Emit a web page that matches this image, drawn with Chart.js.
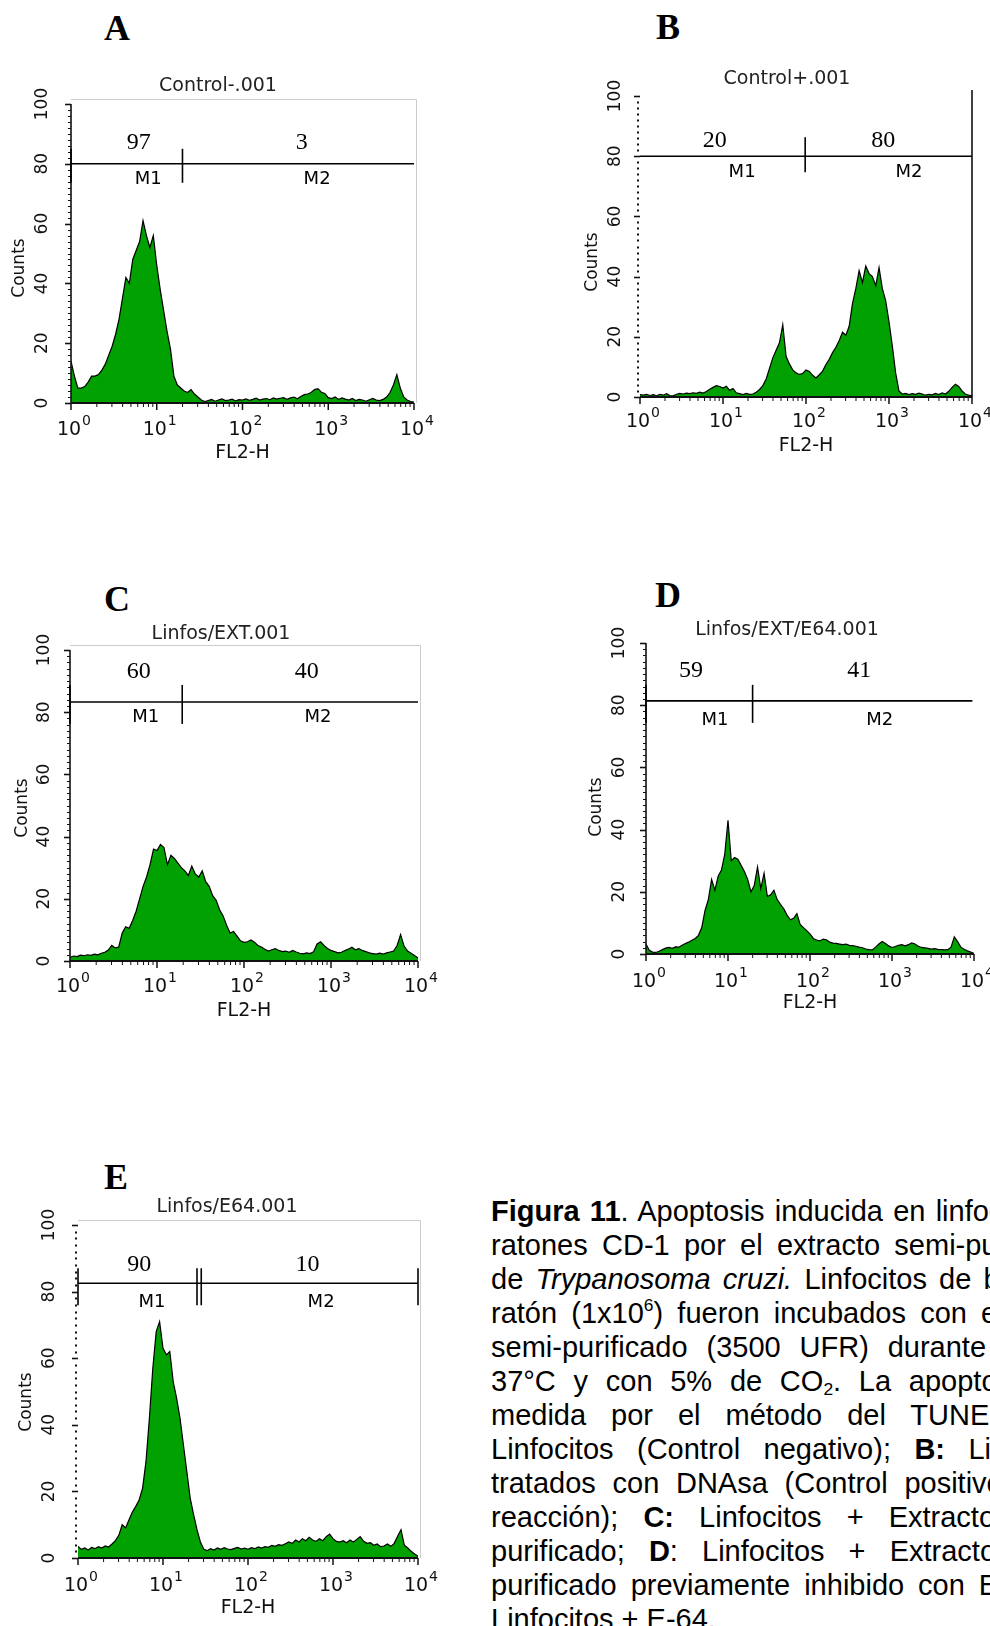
<!DOCTYPE html>
<html>
<head>
<meta charset="utf-8">
<script src="https://cdn.jsdelivr.net/npm/chart.js@4.4.0/dist/chart.umd.min.js"></script>
<style>
  html, body { margin: 0; padding: 0; background: #fff; }
  #page { position: relative; width: 990px; height: 1626px; overflow: hidden; }
  #page canvas { position: absolute; }
  .letter { position: absolute; font-family: "Liberation Serif", serif; font-weight: bold; font-size: 36px; transform: translate(-50%, -50%); }
  #caption { position: absolute; left: 491px; top: 1194px; font-family: "Liberation Sans", Arial, sans-serif; font-size: 29px; line-height: 34px; color: #000; }
  #caption div { width: 600px; text-align: justify; text-align-last: justify; }
  #caption div.last { text-align-last: left; }
  #caption sup { font-size: 0.6em; vertical-align: 0.7em; line-height: 0; }
  #caption sub { font-size: 0.6em; vertical-align: -0.25em; line-height: 0; }
</style>
</head>
<body>
<div id="page">
  <div class="letter" style="left:117px;top:28px">A</div>
  <div class="letter" style="left:668px;top:27px">B</div>
  <div class="letter" style="left:117px;top:599px">C</div>
  <div class="letter" style="left:668px;top:595px">D</div>
  <div class="letter" style="left:116px;top:1177px">E</div>

  <div id="caption">
    <div><b>Figura 11</b>. Apoptosis inducida en linfocitos de</div>
    <div>ratones CD-1 por el extracto semi-purificado</div>
    <div>de <i>Trypanosoma cruzi.</i> Linfocitos de bazo de</div>
    <div style="width:630px">ratón (1x10<sup>6</sup>) fueron incubados con el extracto</div>
    <div>semi-purificado (3500 UFR) durante 4 h a</div>
    <div>37°C y con 5% de CO<sub>2</sub>. La apoptosis fue</div>
    <div style="width:578px">medida por el método del TUNEL. <b>A:</b></div>
    <div>Linfocitos (Control negativo); <b>B:</b> Linfocitos</div>
    <div>tratados con DNAsa (Control positivo de la</div>
    <div>reacción); <b>C:</b> Linfocitos + Extracto semi-</div>
    <div>purificado; <b>D</b>: Linfocitos + Extracto semi-</div>
    <div>purificado previamente inhibido con E-64; <b>E:</b></div>
    <div class="last">Linfocitos + E-64.</div>
  </div>
</div>

<script>
// FL2-H channel positions, in decades (0 = 10^0 ... 4 = 10^4)
const channels = Array.from({ length: 101 }, (_, i) => +(i * 0.04).toFixed(2));

// Counts per channel
const countsA = [14, 9, 5, 5, 5.5, 7, 9, 9, 9.5, 11,
  13, 16, 19, 23, 28, 35, 42, 40, 48, 51,
  54, 61, 56, 52, 56, 46, 38, 31, 24, 18,
  9, 6, 5, 4, 3.5, 4.5, 3, 2, 1, 0.5,
  0.8, 1.2, 0.6, 1, 1.4, 0.8, 1, 1.3, 0.7, 1.1,
  1, 1.4, 0.9, 1.2, 1.6, 1, 1.3, 1.5, 1.1, 1.7,
  1.3, 1.6, 1.8, 1.2, 1.7, 2, 1.4, 2.2, 2.8, 3,
  3.5, 4.5, 4.8, 3.6, 3.2, 1.8, 1.5, 2, 1.2, 1.7,
  1.3, 1, 1.5, 0.8, 1.2, 1, 0.6, 1.1, 1.5, 1,
  0.8, 1.2, 2, 3.5, 6, 9.5, 5, 2, 1, 0.5,
  0.3];

const countsB = [0.8, 0.6, 0.9, 0.5, 0.8, 0.4, 0.9, 0.6, 1.1, 0.5,
  0.4, 0.9, 1.2, 1, 1.3, 1.1, 1.4, 1.2, 1.6, 1.3,
  1.8, 2.6, 3.2, 3.8, 3.5, 3, 3.6, 2.2, 2.8, 1.4,
  1.1, 0.8, 1.2, 0.9, 1, 1.6, 2.5, 3.8, 6, 9.5,
  13, 15.5, 18, 24, 13.5, 11, 9, 8, 7.5, 7.8,
  9, 8.5, 7.2, 6.3, 7.4, 8.6, 10.8, 12.5, 14.8, 16.5,
  18.8, 21.5, 20.5, 23.5, 31, 36, 42, 38, 43.5, 41,
  40, 37, 43, 36, 32, 25, 17, 8, 2, 1,
  1.2, 0.8, 1.1, 0.9, 1.3, 1, 0.6, 0.9, 0.7, 1.2,
  0.8, 1.4, 1, 1.9, 3.2, 4.2, 3.5, 2, 1, 0.6,
  0.4];

const countsC = [1.2, 1.6, 1.4, 1.9, 1.7, 2.0, 1.8, 2.2, 2.0, 2.5,
  2.8, 3.5, 5.0, 4.2, 4.5, 9, 11, 10.5, 13, 16,
  20, 24, 27, 31, 36, 35.5, 37.5, 36.5, 31, 34,
  33, 31.5, 30, 29, 27.5, 30.5, 28, 27, 29, 25.5,
  24, 21, 19.5, 16.5, 14.5, 11.5, 9, 9.5, 8, 6.5,
  6, 6.2, 6.8, 6, 5, 4.5, 3.8, 3.2, 3.6, 4,
  3.4, 3, 3.2, 2.8, 3.4, 2.9, 2.5, 2.3, 2.6, 2.4,
  3, 5.5, 6.2, 5, 4, 3.4, 3, 2.6, 2.8, 3.4,
  3.8, 4.4, 3.6, 4, 3.4, 3, 2.6, 2.4, 2.2, 2.5,
  2.2, 2.6, 2.9, 3.2, 5, 8.5, 4.8, 3.2, 2.5, 1.8,
  1];

const countsD = [3.2, 1.2, 0.6, 0.5, 0.9, 1.4, 1.9, 2.1, 1.8, 2.3,
  2.2, 2.8, 3.4, 3.8, 4.4, 5, 6, 8.5, 14, 17.5,
  24, 20.5, 25, 27, 32, 43, 30, 31, 30.5, 28.5,
  26.5, 24, 20, 22, 28, 21, 26, 18.5, 19, 20.5,
  17.5, 16, 14.5, 12.5, 11, 11.5, 13, 9.5, 8.5, 7.5,
  6.5, 5, 4.5, 4.2, 4.8, 4.6, 3.8, 3.5, 3.4, 3.2,
  3, 3.2, 2.8, 2.7, 2.5, 2.2, 2.0, 1.6, 1.4, 1.3,
  2.2, 3.2, 4, 3.4, 2.6, 2.1, 2.4, 2.8, 3, 2.6,
  3, 3.6, 3.2, 2.5, 2.1, 2, 1.8, 1.6, 1.7, 1.5,
  1.4, 1.3, 1.4, 2.2, 5.5, 4, 2.2, 1.5, 1, 0.6,
  0.2];

const countsE = [3.5, 2.6, 3.0, 2.4, 3.2, 2.8, 3.4, 3.0, 3.6, 3.3,
  4.2, 5.2, 6.8, 10, 9, 11.5, 13.8, 15.5, 17.5, 21,
  29, 42, 57, 68, 71, 63, 61, 62, 53, 48,
  42, 34, 26, 18, 13, 8.5, 4.8, 2.6, 2.2, 2.8,
  2.4, 3, 2.6, 3.1, 2.7, 2.5, 2.9, 3.2, 2.7, 3,
  2.6, 3.1, 2.8, 3.3, 3.0, 3.4, 3.2, 3.8, 3.5, 4,
  3.8, 4.3, 4.8, 4.4, 5.4, 4.8, 5.8, 5.2, 6.2, 5.4,
  5, 5.8, 5.2, 6.4, 7.2, 5.8, 5, 4.8, 5.2, 4.6,
  5.4, 4.8, 5.6, 6.4, 5, 4.4, 4.6, 3.8, 4.2, 3.4,
  3.6, 4.2, 3.5, 4.4, 6.5, 8.5, 3.8, 3, 2, 1.2,
  0.5];

const panelTitles = ['Control-.001', 'Control+.001', 'Linfos/EXT.001', 'Linfos/EXT/E64.001', 'Linfos/E64.001'];
const gatePercents = [['97', '3'], ['20', '80'], ['60', '40'], ['59', '41'], ['90', '10']];
const gateNames = ['M1', 'M2'];
// gate boundaries in decades, and the counts level the marker bar sits at
const gateEdges = [[0, 1.3, 4], [0, 1.99, 4], [0, 1.29, 4], [0, 1.3, 3.98], [0, 1.4, 1.45, 4]];
const gateLevels = [80, 80, 83.3, 81.4, 82.5];
const yTicks = [0, 20, 40, 60, 80, 100];
const xDecades = [0, 1, 2, 3, 4];

const GREEN = '#00a100';
const INK = '#111';

// layout of each panel on the page (page pixels)
const panels = [
  { counts: countsA, canvas: { x: 0, y: 60, w: 450, h: 420 }, plot: { l: 71, t: 104, r: 414, b: 403 },
    frame: true, solidAxis: true, title: [218, 86], yLabX: 43, countsXY: [20, 268], xLabY: 428, flY: 453,
    ticks: [0, 1.3], div: [-15, 19], pctX: [0.79, 2.69], pctDy: -21, mX: [0.9, 2.87], mDy: 16 },
  { counts: countsB, canvas: { x: 560, y: 60, w: 430, h: 420 }, plot: { l: 640, t: 96, r: 972, b: 397 },
    frame: false, solidAxis: false, title: [787, 79], yLabX: 616, countsXY: [593, 262], xLabY: 420, flY: 446,
    ticks: [1.99], div: [-19, 16], tallRight: true, pctX: [0.9, 2.93], pctDy: -15, mX: [1.23, 3.24], mDy: 16 },
  { counts: countsC, canvas: { x: 0, y: 610, w: 450, h: 420 }, plot: { l: 70, t: 650, r: 418, b: 961 },
    frame: true, solidAxis: true, title: [221, 634], yLabX: 45, countsXY: [23, 808], xLabY: 985, flY: 1011,
    ticks: [0, 1.29], div: [-17, 22], pctX: [0.79, 2.72], pctDy: -30, mX: [0.87, 2.85], mDy: 15 },
  { counts: countsD, canvas: { x: 560, y: 605, w: 430, h: 420 }, plot: { l: 646, t: 643, r: 974, b: 954 },
    frame: false, solidAxis: true, title: [787, 630], yLabX: 620, countsXY: [597, 807], xLabY: 980, flY: 1003,
    ticks: [0, 1.3], div: [-16, 22], pctX: [0.55, 2.6], pctDy: -30, mX: [0.84, 2.85], mDy: 19 },
  { counts: countsE, canvas: { x: 0, y: 1190, w: 450, h: 436 }, plot: { l: 78, t: 1225, r: 418, b: 1558 },
    frame: true, solidAxis: false, title: [227, 1207], yLabX: 50, countsXY: [27, 1402], xLabY: 1584, flY: 1608,
    ticks: [0, 1.4, 1.45, 4], div: [-15, 22], pctX: [0.72, 2.7], pctDy: -19, mX: [0.87, 2.86], mDy: 19 }
];

const seg = (ctx, x1, y1, x2, y2, w) => {
  ctx.lineWidth = w;
  ctx.beginPath();
  ctx.moveTo(x1, y1);
  ctx.lineTo(x2, y2);
  ctx.stroke();
};

const panelPlugin = (p, idx) => ({
  id: 'flowPanel' + idx,
  beforeDatasetsDraw(chart) {
    if (!p.frame) return;
    const { ctx, chartArea: a } = chart;
    ctx.save();
    ctx.strokeStyle = '#cccccc';
    ctx.lineWidth = 1;
    ctx.beginPath();
    ctx.moveTo(a.left, a.top - 4.5);
    ctx.lineTo(a.right + 2.5, a.top - 4.5);
    ctx.lineTo(a.right + 2.5, a.bottom);
    ctx.stroke();
    ctx.restore();
  },
  afterDatasetsDraw(chart) {
    const { ctx, scales: { x, y } } = chart;
    const ox = p.canvas.x, oy = p.canvas.y;
    ctx.save();
    ctx.strokeStyle = INK;
    ctx.fillStyle = INK;

    // y axis
    const ax = x.getPixelForValue(0);
    if (p.solidAxis) seg(ctx, ax, y.getPixelForValue(100), ax, y.getPixelForValue(0), 1.6);
    for (let v = 0; v <= 100; v += 2) {
      const py = Math.round(y.getPixelForValue(v)) + 0.5;
      if (v % 20 === 0) seg(ctx, ax - 6, py, ax, py, 1.6);
      else if (p.solidAxis) seg(ctx, ax - 3, py, ax, py, 1);
      else ctx.fillRect(ax - 3, py - 1, 2, 2);
    }

    // x axis (log decades)
    const by = y.getPixelForValue(0);
    seg(ctx, x.getPixelForValue(0), by, x.getPixelForValue(4), by, 2);
    xDecades.forEach(d => {
      const px = x.getPixelForValue(d);
      seg(ctx, px, by, px, by + 7, 1.5);
      if (d < 4) {
        for (let k = 2; k <= 9; k++) {
          const mx = x.getPixelForValue(d + Math.log10(k));
          seg(ctx, mx, by, mx, by + 4, 1);
        }
      }
    });

    // y tick labels, rotated
    ctx.font = '17px "DejaVu Sans"';
    ctx.textAlign = 'center';
    ctx.textBaseline = 'middle';
    yTicks.forEach(v => {
      ctx.save();
      ctx.translate(p.yLabX - ox, y.getPixelForValue(v));
      ctx.rotate(-Math.PI / 2);
      ctx.fillText(String(v), 0, 0);
      ctx.restore();
    });

    // "Counts"
    ctx.save();
    ctx.font = '17px "DejaVu Sans"';
    ctx.translate(p.countsXY[0] - ox, p.countsXY[1] - oy);
    ctx.rotate(-Math.PI / 2);
    ctx.fillText('Counts', 0, 0);
    ctx.restore();

    // x tick labels 10^n
    xDecades.forEach(d => {
      const px = x.getPixelForValue(d);
      const ly = p.xLabY - oy;
      ctx.font = '19px "DejaVu Sans"';
      ctx.textAlign = 'center';
      ctx.fillText('10', px - 2, ly + 2);
      const w = ctx.measureText('10').width;
      ctx.font = '14px "DejaVu Sans"';
      ctx.textAlign = 'left';
      ctx.fillText(String(d), px - 2 + w / 2 + 1, ly - 7);
    });
    ctx.textAlign = 'center';
    ctx.font = '19px "DejaVu Sans"';
    ctx.fillText('FL2-H', x.getPixelForValue(2), p.flY - oy);

    // panel title
    ctx.fillStyle = '#222';
    ctx.font = '19px "DejaVu Sans"';
    ctx.fillText(panelTitles[idx], p.title[0] - ox, p.title[1] - oy);

    // marker gates M1 / M2
    ctx.fillStyle = '#000';
    ctx.strokeStyle = '#000';
    const gy = y.getPixelForValue(gateLevels[idx]);
    const edges = gateEdges[idx];
    seg(ctx, x.getPixelForValue(edges[0]), gy, x.getPixelForValue(edges[edges.length - 1]), gy, 1.6);
    p.ticks.forEach(d => {
      const px = x.getPixelForValue(d);
      seg(ctx, px, gy + p.div[0], px, gy + p.div[1], 1.6);
    });
    if (p.tallRight) {
      const px = x.getPixelForValue(4);
      seg(ctx, px, y.getPixelForValue(102), px, by, 1.5);
    }
    ctx.font = '24px "Liberation Serif"';
    gatePercents[idx].forEach((t, i) => ctx.fillText(t, x.getPixelForValue(p.pctX[i]), gy + p.pctDy));
    ctx.font = '18px "DejaVu Sans"';
    gateNames.forEach((t, i) => ctx.fillText(t, x.getPixelForValue(p.mX[i]), gy + p.mDy));

    ctx.restore();
  }
});

const page = document.getElementById('page');

panels.forEach((p, idx) => {
  const canvas = document.createElement('canvas');
  canvas.width = p.canvas.w;
  canvas.height = p.canvas.h;
  canvas.style.left = p.canvas.x + 'px';
  canvas.style.top = p.canvas.y + 'px';
  page.appendChild(canvas);

  new Chart(canvas.getContext('2d'), {
    type: 'line',
    data: {
      datasets: [{
        data: channels.map((c, i) => ({ x: c, y: p.counts[i] })),
        fill: 'origin',
        backgroundColor: GREEN,
        borderColor: '#000',
        borderWidth: 1.2,
        pointRadius: 0,
        tension: 0
      }]
    },
    options: {
      responsive: false,
      animation: false,
      layout: {
        padding: {
          left: p.plot.l - p.canvas.x,
          top: p.plot.t - p.canvas.y,
          right: p.canvas.x + p.canvas.w - p.plot.r,
          bottom: p.canvas.y + p.canvas.h - p.plot.b
        }
      },
      scales: {
        x: { type: 'linear', min: 0, max: 4, display: false },
        y: { type: 'linear', min: 0, max: 100, display: false }
      },
      plugins: { legend: { display: false }, tooltip: { enabled: false }, title: { display: false } }
    },
    plugins: [panelPlugin(p, idx)]
  });
});
</script>
</body>
</html>
